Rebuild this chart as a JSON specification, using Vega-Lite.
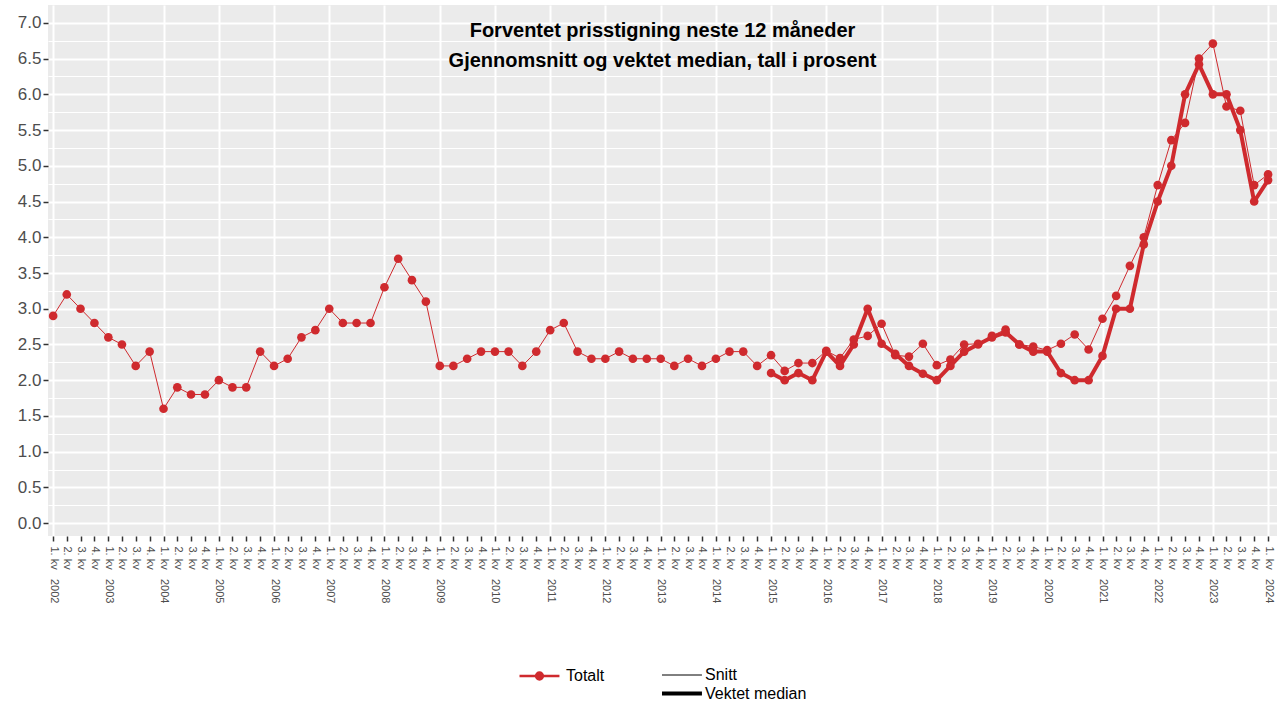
{
  "$schema": "https://vega.github.io/schema/vega-lite/v6.json",
  "width": 1229,
  "height": 531,
  "autosize": {"type": "none"},
  "padding": {"left": 48, "top": 5, "right": 6, "bottom": 165},
  "background": "white",
  "title": {
    "text": "Forventet prisstigning neste 12 måneder",
    "subtitle": "Gjennomsnitt og vektet median, tall i prosent",
    "font": "Liberation Sans",
    "subtitleFont": "Liberation Sans",
    "fontSize": 20,
    "subtitleFontSize": 20,
    "fontWeight": "bold",
    "subtitleFontWeight": "bold",
    "color": "black",
    "subtitleColor": "black",
    "anchor": "middle",
    "offset": -66,
    "subtitlePadding": 10
  },
  "data": {
    "values": [
      {"kvartal": "2002-01-01", "Snitt": 2.9},
      {"kvartal": "2002-04-01", "Snitt": 3.2},
      {"kvartal": "2002-07-01", "Snitt": 3.0},
      {"kvartal": "2002-10-01", "Snitt": 2.8},
      {"kvartal": "2003-01-01", "Snitt": 2.6},
      {"kvartal": "2003-04-01", "Snitt": 2.5},
      {"kvartal": "2003-07-01", "Snitt": 2.2},
      {"kvartal": "2003-10-01", "Snitt": 2.4},
      {"kvartal": "2004-01-01", "Snitt": 1.6},
      {"kvartal": "2004-04-01", "Snitt": 1.9},
      {"kvartal": "2004-07-01", "Snitt": 1.8},
      {"kvartal": "2004-10-01", "Snitt": 1.8},
      {"kvartal": "2005-01-01", "Snitt": 2.0},
      {"kvartal": "2005-04-01", "Snitt": 1.9},
      {"kvartal": "2005-07-01", "Snitt": 1.9},
      {"kvartal": "2005-10-01", "Snitt": 2.4},
      {"kvartal": "2006-01-01", "Snitt": 2.2},
      {"kvartal": "2006-04-01", "Snitt": 2.3},
      {"kvartal": "2006-07-01", "Snitt": 2.6},
      {"kvartal": "2006-10-01", "Snitt": 2.7},
      {"kvartal": "2007-01-01", "Snitt": 3.0},
      {"kvartal": "2007-04-01", "Snitt": 2.8},
      {"kvartal": "2007-07-01", "Snitt": 2.8},
      {"kvartal": "2007-10-01", "Snitt": 2.8},
      {"kvartal": "2008-01-01", "Snitt": 3.3},
      {"kvartal": "2008-04-01", "Snitt": 3.7},
      {"kvartal": "2008-07-01", "Snitt": 3.4},
      {"kvartal": "2008-10-01", "Snitt": 3.1},
      {"kvartal": "2009-01-01", "Snitt": 2.2},
      {"kvartal": "2009-04-01", "Snitt": 2.2},
      {"kvartal": "2009-07-01", "Snitt": 2.3},
      {"kvartal": "2009-10-01", "Snitt": 2.4},
      {"kvartal": "2010-01-01", "Snitt": 2.4},
      {"kvartal": "2010-04-01", "Snitt": 2.4},
      {"kvartal": "2010-07-01", "Snitt": 2.2},
      {"kvartal": "2010-10-01", "Snitt": 2.4},
      {"kvartal": "2011-01-01", "Snitt": 2.7},
      {"kvartal": "2011-04-01", "Snitt": 2.8},
      {"kvartal": "2011-07-01", "Snitt": 2.4},
      {"kvartal": "2011-10-01", "Snitt": 2.3},
      {"kvartal": "2012-01-01", "Snitt": 2.3},
      {"kvartal": "2012-04-01", "Snitt": 2.4},
      {"kvartal": "2012-07-01", "Snitt": 2.3},
      {"kvartal": "2012-10-01", "Snitt": 2.3},
      {"kvartal": "2013-01-01", "Snitt": 2.3},
      {"kvartal": "2013-04-01", "Snitt": 2.2},
      {"kvartal": "2013-07-01", "Snitt": 2.3},
      {"kvartal": "2013-10-01", "Snitt": 2.2},
      {"kvartal": "2014-01-01", "Snitt": 2.3},
      {"kvartal": "2014-04-01", "Snitt": 2.4},
      {"kvartal": "2014-07-01", "Snitt": 2.4},
      {"kvartal": "2014-10-01", "Snitt": 2.2},
      {"kvartal": "2015-01-01", "Snitt": 2.35, "Vektet median": 2.1},
      {"kvartal": "2015-04-01", "Snitt": 2.13, "Vektet median": 2.0},
      {"kvartal": "2015-07-01", "Snitt": 2.24, "Vektet median": 2.1},
      {"kvartal": "2015-10-01", "Snitt": 2.24, "Vektet median": 2.0},
      {"kvartal": "2016-01-01", "Snitt": 2.41, "Vektet median": 2.4},
      {"kvartal": "2016-04-01", "Snitt": 2.31, "Vektet median": 2.2},
      {"kvartal": "2016-07-01", "Snitt": 2.57, "Vektet median": 2.5},
      {"kvartal": "2016-10-01", "Snitt": 2.62, "Vektet median": 3.0},
      {"kvartal": "2017-01-01", "Snitt": 2.79, "Vektet median": 2.51},
      {"kvartal": "2017-04-01", "Snitt": 2.35, "Vektet median": 2.37},
      {"kvartal": "2017-07-01", "Snitt": 2.33, "Vektet median": 2.2},
      {"kvartal": "2017-10-01", "Snitt": 2.51, "Vektet median": 2.09},
      {"kvartal": "2018-01-01", "Snitt": 2.21, "Vektet median": 2.0},
      {"kvartal": "2018-04-01", "Snitt": 2.29, "Vektet median": 2.2},
      {"kvartal": "2018-07-01", "Snitt": 2.5, "Vektet median": 2.4},
      {"kvartal": "2018-10-01", "Snitt": 2.51, "Vektet median": 2.5},
      {"kvartal": "2019-01-01", "Snitt": 2.62, "Vektet median": 2.6},
      {"kvartal": "2019-04-01", "Snitt": 2.71, "Vektet median": 2.67},
      {"kvartal": "2019-07-01", "Snitt": 2.5, "Vektet median": 2.5},
      {"kvartal": "2019-10-01", "Snitt": 2.47, "Vektet median": 2.4},
      {"kvartal": "2020-01-01", "Snitt": 2.42, "Vektet median": 2.4},
      {"kvartal": "2020-04-01", "Snitt": 2.51, "Vektet median": 2.1},
      {"kvartal": "2020-07-01", "Snitt": 2.64, "Vektet median": 2.0},
      {"kvartal": "2020-10-01", "Snitt": 2.43, "Vektet median": 2.0},
      {"kvartal": "2021-01-01", "Snitt": 2.86, "Vektet median": 2.34},
      {"kvartal": "2021-04-01", "Snitt": 3.18, "Vektet median": 3.0},
      {"kvartal": "2021-07-01", "Snitt": 3.6, "Vektet median": 3.0},
      {"kvartal": "2021-10-01", "Snitt": 4.0, "Vektet median": 3.9},
      {"kvartal": "2022-01-01", "Snitt": 4.73, "Vektet median": 4.5},
      {"kvartal": "2022-04-01", "Snitt": 5.36, "Vektet median": 5.0},
      {"kvartal": "2022-07-01", "Snitt": 5.6, "Vektet median": 6.0},
      {"kvartal": "2022-10-01", "Snitt": 6.5, "Vektet median": 6.42},
      {"kvartal": "2023-01-01", "Snitt": 6.71, "Vektet median": 6.0},
      {"kvartal": "2023-04-01", "Snitt": 5.83, "Vektet median": 6.0},
      {"kvartal": "2023-07-01", "Snitt": 5.77, "Vektet median": 5.5},
      {"kvartal": "2023-10-01", "Snitt": 4.73, "Vektet median": 4.5},
      {"kvartal": "2024-01-01", "Snitt": 4.88, "Vektet median": 4.8}
    ]
  },
  "transform": [
    {"fold": ["Snitt", "Vektet median"], "as": ["serie", "verdi"]},
    {"filter": "isValid(datum.verdi)"}
  ],
  "encoding": {
    "x": {
      "field": "kvartal",
      "type": "temporal",
      "scale": {
        "type": "utc",
        "domain": [
          {"year": 2001, "month": 11, "date": 28, "utc": true},
          {"year": 2024, "month": 2, "date": 29, "utc": true}
        ]
      },
      "axis": {
        "title": null,
        "tickCount": {"interval": "month", "step": 3},
        "labelExpr": "(floor(utcmonth(datum.value)/3)+1) + '. kv' + (utcmonth(datum.value) === 0 ? '\u00a0\u00a0\u00a0' + utcyear(datum.value) : '')",
        "labelAngle": 90,
        "labelAlign": "left",
        "labelBaseline": "middle",
        "labelFontSize": 11,
        "labelColor": "#4D4D4D",
        "labelPadding": 5,
        "labelOverlap": false,
        "labelFlush": false,
        "labelBound": false,
        "domain": false,
        "ticks": true,
        "tickColor": "#333333",
        "tickSize": 5,
        "tickWidth": 1.5,
        "grid": true,
        "gridColor": "white",
        "gridWidth": 2,
        "gridOpacity": {"condition": {"test": "utcmonth(datum.value) === 0", "value": 1}, "value": 0}
      }
    },
    "y": {
      "field": "verdi",
      "type": "quantitative",
      "scale": {"domain": [-0.18, 7.25], "nice": false, "zero": false},
      "axis": {
        "title": null,
        "values": [0, 0.25, 0.5, 0.75, 1, 1.25, 1.5, 1.75, 2, 2.25, 2.5, 2.75, 3, 3.25, 3.5, 3.75, 4, 4.25, 4.5, 4.75, 5, 5.25, 5.5, 5.75, 6, 6.25, 6.5, 6.75, 7],
        "labelExpr": "datum.value % 0.5 === 0 ? format(datum.value, '.1f') : ''",
        "labelFontSize": 17,
        "labelColor": "#4D4D4D",
        "labelPadding": 2,
        "labelOverlap": false,
        "domain": false,
        "tickColor": "#333333",
        "tickSize": 5,
        "tickWidth": 1.5,
        "tickOpacity": {"condition": {"test": "datum.value % 0.5 === 0", "value": 1}, "value": 0},
        "grid": true,
        "gridColor": "white",
        "gridWidth": {"condition": {"test": "datum.value % 0.5 === 0", "value": 2}, "value": 1}
      }
    }
  },
  "layer": [
    {
      "mark": {"type": "point", "filled": true, "size": 75, "opacity": 1},
      "encoding": {
        "color": {
          "datum": "Totalt",
          "type": "nominal",
          "scale": {"range": ["#CF2A2E"]},
          "legend": {
            "title": null,
            "orient": "bottom",
            "direction": "vertical",
            "offset": 63,
            "symbolType": "M-1,0L3.7,0M0.95,0A0.4,0.4,0,1,0,1.75,0A0.4,0.4,0,1,0,0.95,0Z",
            "symbolSize": 289,
            "symbolStrokeColor": "#CF2A2E",
            "symbolFillColor": "#CF2A2E",
            "symbolStrokeWidth": 2.5,
            "symbolOpacity": 1,
            "labelOffset": 28,
            "labelFontSize": 16,
            "labelColor": "black"
          }
        }
      }
    },
    {
      "mark": {"type": "line", "strokeJoin": "round"},
      "encoding": {
        "stroke": {"condition": {"test": "true", "value": "#CF2A2E"}, "value": "black"},
        "strokeWidth": {
          "field": "serie",
          "type": "nominal",
          "scale": {"domain": ["Snitt", "Vektet median"], "range": [1, 4]},
          "legend": {
            "title": null,
            "orient": "bottom",
            "direction": "vertical",
            "offset": 63,
            "symbolType": "M-1,0L3.7,0",
            "symbolSize": 289,
            "symbolFillColor": "transparent",
            "labelOffset": 24,
            "labelFontSize": 16,
            "labelColor": "black",
            "rowPadding": 0
          }
        }
      }
    }
  ],
  "config": {
    "font": "Liberation Sans",
    "view": {"fill": "#EBEBEB", "stroke": null},
    "legend": {
      "layout": {"bottom": {"anchor": "middle", "margin": 55}}
    }
  }
}
